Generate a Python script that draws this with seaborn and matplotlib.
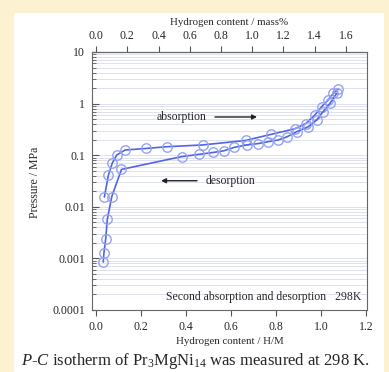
import numpy as np
import pandas as pd
import matplotlib
matplotlib.use("Agg")
import matplotlib.pyplot as plt
from matplotlib.patches import Rectangle
from matplotlib.ticker import LogLocator, FixedLocator, NullFormatter, FixedFormatter
import seaborn as sns

# ---- data ----
abs_hm = [0.037, 0.055, 0.072, 0.092, 0.129, 0.222, 0.314, 0.474, 0.665, 0.776,
          0.884, 0.933, 0.973, 1.003, 1.032, 1.055, 1.077]
abs_p = [0.0155, 0.041, 0.070, 0.101, 0.126, 0.135, 0.146, 0.158, 0.193, 0.252,
         0.325, 0.411, 0.60, 0.87, 1.17, 1.58, 1.89]

des_hm = [1.070, 1.040, 1.010, 0.981, 0.944, 0.892, 0.850, 0.810, 0.766, 0.721,
          0.670, 0.615, 0.569, 0.521, 0.459, 0.381, 0.113, 0.070, 0.050, 0.043,
          0.035, 0.032]
des_p = [1.58, 1.01, 0.70, 0.48, 0.357, 0.285, 0.228, 0.197, 0.183, 0.168,
         0.158, 0.142, 0.122, 0.113, 0.104, 0.094, 0.053, 0.0158, 0.0057, 0.0024,
         0.00127, 0.00085]

x_ticks = [0.0, 0.2, 0.4, 0.6, 0.8, 1.0, 1.2]
top_ticks = [0.0, 0.2, 0.4, 0.6, 0.8, 1.0, 1.2, 1.4, 1.6]
y_ticks = [0.0001, 0.001, 0.01, 0.1, 1, 10]
y_ticklabels = ["0.0001", "0.001", "0.01", "0.1", "1", "10"]
mass_per_hm = 1.44

df = pd.concat([
    pd.DataFrame({"hm": abs_hm, "p": abs_p, "branch": "absorption"}),
    pd.DataFrame({"hm": des_hm, "p": des_p, "branch": "desorption"}),
], ignore_index=True)

# ---- style ----
sns.set_style("white")
plt.rcParams["font.family"] = ["Liberation Serif", "DejaVu Serif"]
plt.rcParams["mathtext.fontset"] = "custom"
plt.rcParams["mathtext.rm"] = "Liberation Serif"
plt.rcParams["mathtext.it"] = "Liberation Serif:italic"

W, H = 389, 372
fig = plt.figure(figsize=(W / 100, H / 100), dpi=100)
fig.patch.set_facecolor("#fcf1d0")
fig.patches.append(Rectangle((14 / W, 0), 370 / W, (H - 13) / H,
                             transform=fig.transFigure, facecolor="white",
                             edgecolor="none", zorder=-10))

left, right, top, bottom = 92, 367, 52, 310
ax = fig.add_axes([left / W, 1 - bottom / H, (right - left) / W, (bottom - top) / H])
ax.set_facecolor("white")

line_col = "#5064e6"
sns.lineplot(data=df, x="hm", y="p", units="branch", estimator=None, sort=False,
             color=line_col, lw=1.2, marker="o", ms=6.8, mfc="none",
             mec="#95a3f2", mew=1.0, ax=ax, legend=False)

ax.set_yscale("log")
ax.set_ylim(1e-4, 10)
ax.set_xlim(-0.018, 1.205)

# grid lines at every log minor/major position
for dec in range(-4, 1):
    for k in range(1, 10):
        v = k * 10.0 ** dec
        ax.axhline(v, color="#dfe2ee", lw=0.7, zorder=0)

ax.yaxis.set_major_locator(FixedLocator(y_ticks))
ax.yaxis.set_major_formatter(FixedFormatter(y_ticklabels))
ax.yaxis.set_minor_locator(LogLocator(base=10, subs=np.arange(2, 10)))
ax.yaxis.set_minor_formatter(NullFormatter())
ax.set_xticks(x_ticks)
ax.set_xticklabels([f"{t:.1f}" for t in x_ticks])

for s in ax.spines.values():
    s.set_color("#666666")
    s.set_linewidth(0.8)
    s.set_visible(True)

ax.tick_params(axis="y", which="major", direction="in", length=5, width=0.8,
               color="#555555", labelsize=8.5, pad=5, left=True, right=False)
ax.tick_params(axis="y", which="minor", direction="in", length=3, width=0.6,
               color="#555555", left=True, right=False)
ax.tick_params(axis="x", which="major", direction="out", length=4, width=0.8,
               color="#555555", labelsize=8.5, pad=4, bottom=True, top=False)

ax.set_xlabel("Hydrogen content / H/M", fontsize=7.8, labelpad=3)
ax.set_ylabel("")

secax = ax.secondary_xaxis("top", functions=(lambda x: x * mass_per_hm,
                                              lambda m: m / mass_per_hm))
secax.set_xticks(top_ticks)
secax.set_xticklabels([f"{t:.1f}" for t in top_ticks])
secax.tick_params(direction="out", length=4, width=0.8, color="#555555",
                  labelsize=8.5, pad=3)
secax.spines["top"].set_color("#666666")
secax.set_xlabel("Hydrogen content / mass%", fontsize=7.8, labelpad=4)

fig.text(35 / W, 1 - 182 / H, "Pressure / MPa", rotation=90, fontsize=8.5,
         ha="center", va="center")

# annotations
ax.text(0.382, 0.55, "absorption", fontsize=8.5, ha="center", va="center")
ax.annotate("", xy=(0.716, 0.55), xytext=(0.529, 0.55),
            arrowprops=dict(arrowstyle="-|>", color="#222222", lw=1.0,
                            mutation_scale=7, shrinkA=0, shrinkB=0))
ax.text(0.596, 0.032, "desorption", fontsize=8.5, ha="center", va="center")
ax.annotate("", xy=(0.289, 0.032), xytext=(0.449, 0.032),
            arrowprops=dict(arrowstyle="-|>", color="#222222", lw=1.0,
                            mutation_scale=7, shrinkA=0, shrinkB=0))
ax.text(0.978, 0.05, "Second absorption and desorption   298K", fontsize=8.5,
        ha="right", va="center", transform=ax.transAxes)

fig.text(195 / W, 1 - 361 / H,
         r"$P$-$C$ isotherm of Pr$_3$MgNi$_{14}$ was measured at 298 K.",
         fontsize=12.0, ha="center", va="center")

fig.savefig("out.png", dpi=100, facecolor=fig.get_facecolor())
